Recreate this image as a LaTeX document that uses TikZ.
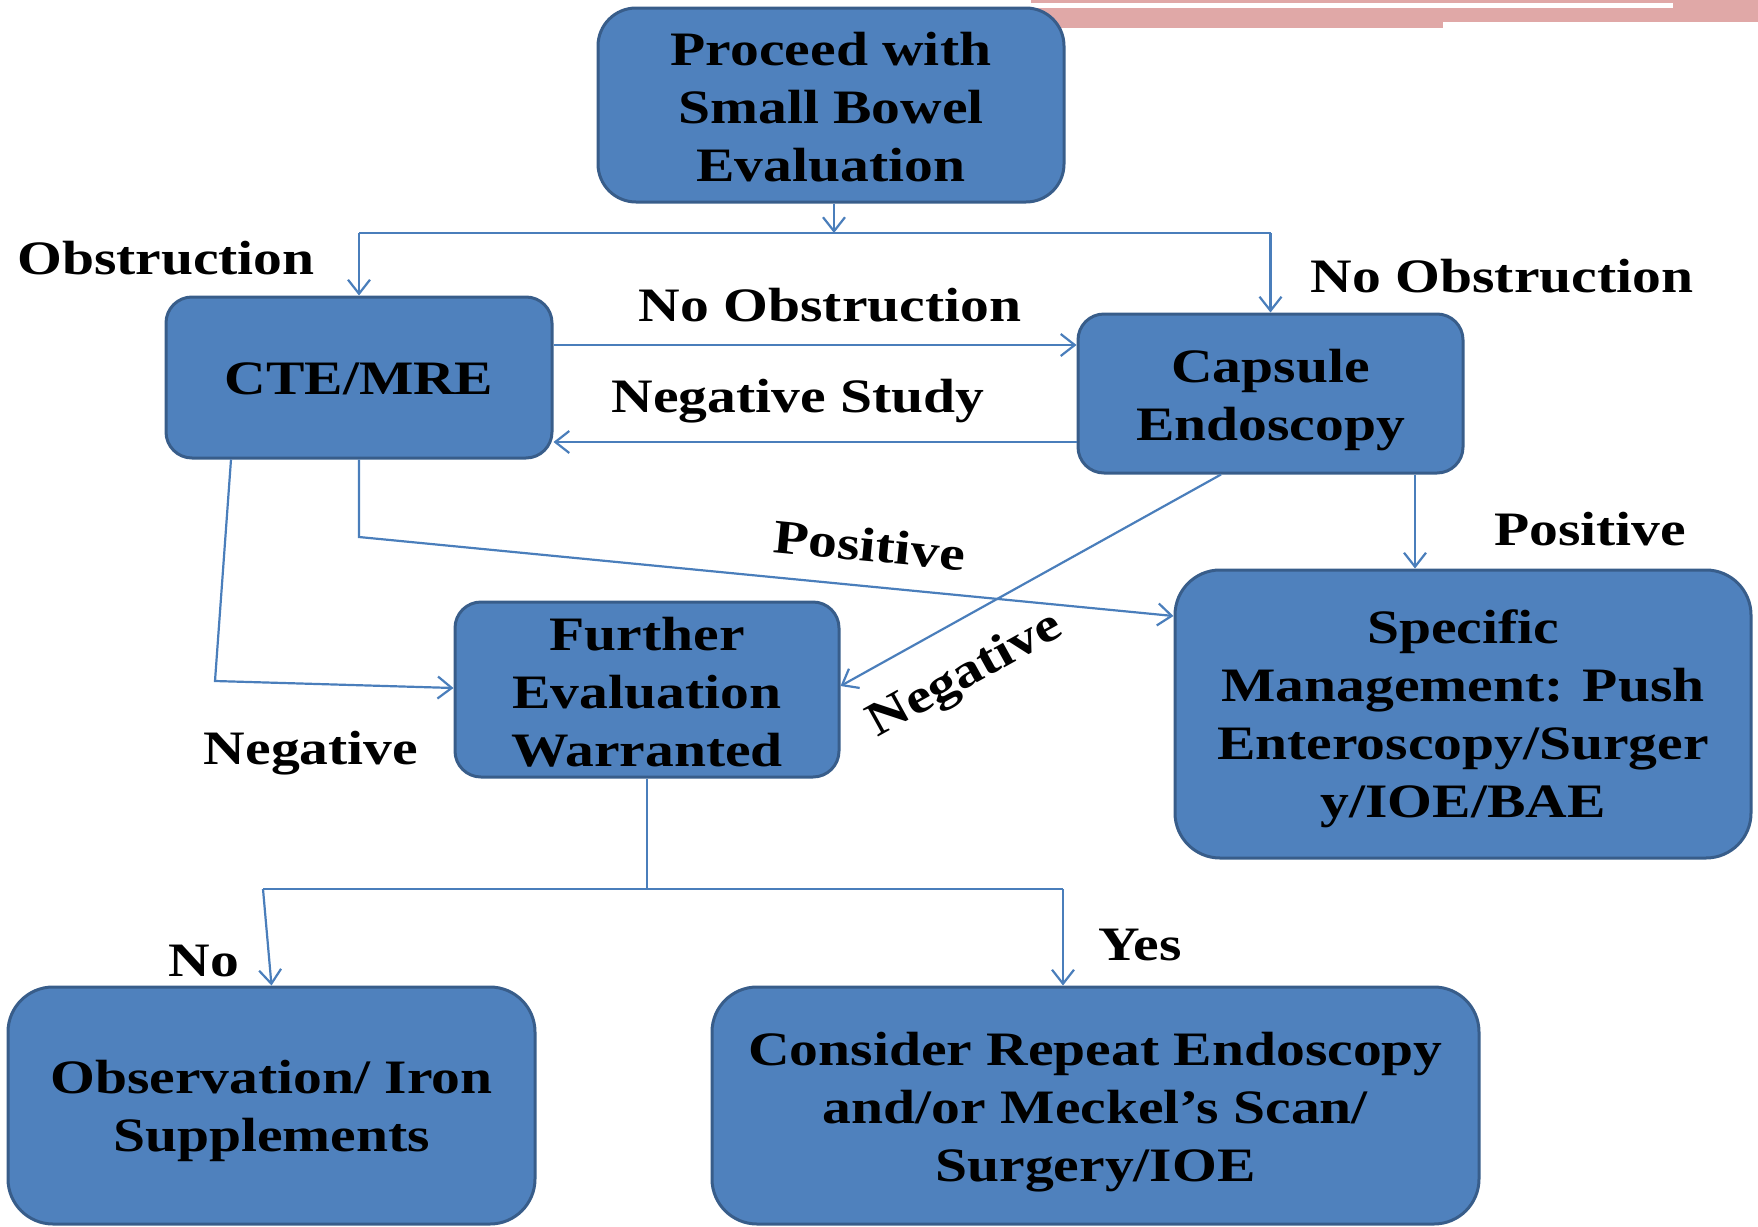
\documentclass[tikz,border=0pt]{standalone}
\usepackage{fontspec}
\setmainfont{Liberation Serif}[FakeStretch=1.2]
\usetikzlibrary{arrows.meta,calc}
\definecolor{boxfill}{HTML}{4F81BD}
\definecolor{boxdraw}{HTML}{385D8A}
\definecolor{linec}{HTML}{4A7EBB}
\definecolor{pinkbar}{HTML}{E0A8A7}
\newcommand{\tup}[1]{\rule{0pt}{#1}}
\begin{document}
\begin{tikzpicture}[x=1pt,y=-1pt,
  box/.style={draw=boxdraw, fill=boxfill, line width=3pt, align=center,
    inner sep=0pt, font=\fontsize{48}{58}\selectfont\bfseries},
  lbl/.style={font=\fontsize{48}{58}\selectfont\bfseries, inner sep=0pt},
  conn/.style={draw=linec, line width=2.2pt},
  arr/.style={conn, -{Straight Barb[length=14pt,width=22pt,line width=2.2pt]}}]
\useasboundingbox (0,0) rectangle (1758,1226);
% pink banner
\fill[pinkbar] (1031,0) rectangle (1758,2.5);
\fill[pinkbar] (1673,0) rectangle (1758,22);
\fill[pinkbar] (1031,8) rectangle (1758,22);
\fill[pinkbar] (1031,21) rectangle (1443,28);
% boxes
\node[box, rounded corners=38pt, minimum width=466pt, minimum height=194pt] (top) at (831,105) {\tup{38pt}Proceed with\\Small Bowel\\Evaluation};
\node[box, rounded corners=26pt, minimum width=386pt, minimum height=161pt] (cte) at (359,377.5) {\tup{35pt}CTE/MRE};
\node[box, rounded corners=26pt, minimum width=385pt, minimum height=159pt] (cap) at (1270.5,393.5) {\tup{46pt}Capsule\\Endoscopy};
\node[box, rounded corners=26pt, minimum width=384pt, minimum height=175pt] (fur) at (647,689.5) {\tup{38pt}Further\\Evaluation\\Warranted};
\node[box, rounded corners=45pt, minimum width=576pt, minimum height=288pt] (spec) at (1463,714) {\tup{44pt}Specific\\Management: Push\\Enteroscopy/Surger\\y/IOE/BAE};
\node[box, rounded corners=45pt, minimum width=527pt, minimum height=237pt] (obs) at (271.5,1105.5) {\tup{44pt}Observation/ Iron\\Supplements};
\node[box, rounded corners=45pt, minimum width=767pt, minimum height=237pt] (cons) at (1095.5,1105.5) {\tup{46pt}Consider Repeat Endoscopy\\and/or Meckel’s Scan/\\Surgery/IOE};
% junction coordinates
\coordinate (jt) at (834,233);
\coordinate (jl) at (359,233);
\coordinate (jr) at (1270.5,233);
\coordinate (kp) at (359,537);
\coordinate (kn) at (215,681);
\coordinate (jb) at (647,889);
\coordinate (bl) at (263,889);
\coordinate (br) at (1063,889);
% connectors
\draw[arr] ([xshift=3pt]top.south) -- (jt);
\draw[conn] (jl) -- (jr);
\draw[arr] (jl) -- (cte.north);
\draw[arr] (jr) -- (cap.north);
\draw[arr] ([yshift=32.5pt]cte.east) -- ([yshift=32.5pt]cte.east -| cap.west);
\draw[arr] ([yshift=-48.5pt]cap.west) -- ([yshift=-48.5pt]cap.west -| cte.east);
\draw[arr] (cte.south) -- (kp) -- ([yshift=98pt]spec.west);
\draw[arr] ([xshift=-128pt]cte.south) -- (kn) -- ([yshift=1.5pt]fur.west);
\draw[arr] ([xshift=-49.5pt]cap.south) -- ([yshift=3.5pt]fur.east);
\draw[arr] ([xshift=144.5pt]cap.south) -- ([xshift=144.5pt]cap.south |- spec.north);
\draw[conn] (fur.south) -- (jb);
\draw[conn] (bl) -- (br);
\draw[arr] (bl) -- (obs.north);
\draw[arr] (br) -- (br |- cons.north);
% labels
\node[lbl] (l1) at (166,258) {Obstruction};
\node[lbl] (l2) at (830,305) {No Obstruction};
\node[lbl] (l3) at (1502,276) {No Obstruction};
\node[lbl] (l4) at (798,401) {Negative Study};
\node[lbl, rotate=-5.5] (l5) at (870,545) {Positive};
\node[lbl] (l6) at (1590,529) {Positive};
\node[lbl, rotate=29] (l7) at (966,676) {Negative};
\node[lbl] (l8) at (311,753) {Negative};
\node[lbl] (l9) at (204,961) {No};
\node[lbl] (l10) at (1140,945) {Yes};
\end{tikzpicture}
\end{document}
